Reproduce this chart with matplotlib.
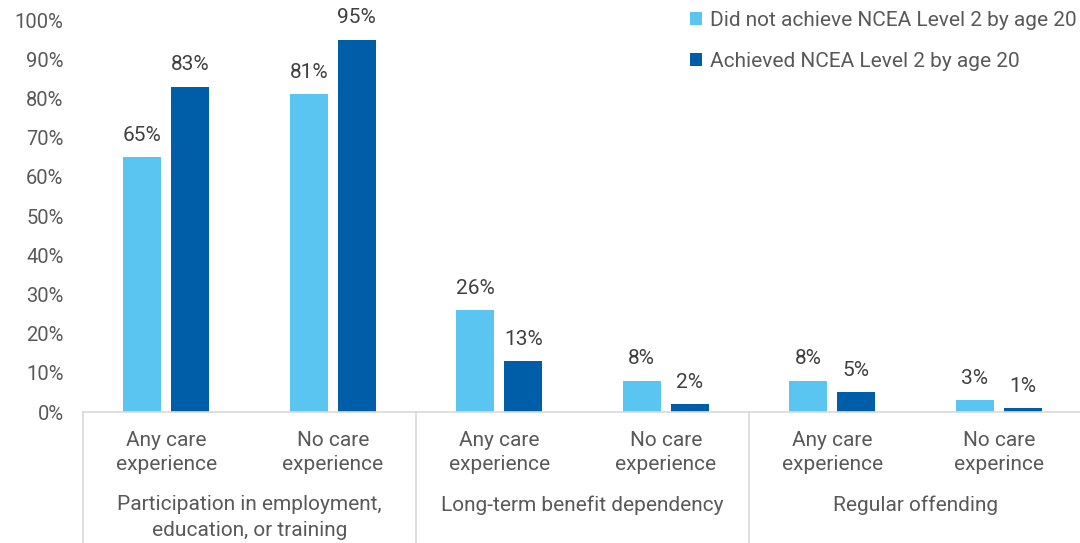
import matplotlib.pyplot as plt
import numpy as np

plt.rcParams['font.family'] = ['Roboto', 'DejaVu Sans']

# care experience categories, grouped by outcome
categories = ["Any care\nexperience", "No care\nexperience",
              "Any care\nexperience", "No care\nexperience",
              "Any care\nexperience", "No care\nexperince"]
groups = ["Participation in employment,\neducation, or training",
          "Long-term benefit dependency",
          "Regular offending"]
not_achieved = [65, 81, 26, 8, 8, 3]
achieved = [83, 95, 13, 2, 5, 1]
series_names = ["Did not achieve NCEA Level 2 by age 20",
                "Achieved NCEA Level 2 by age 20"]
yticks = list(range(0, 101, 10))

light_blue = "#5BC5F2"
dark_blue = "#005EA8"
grid_grey = "#D9D9D9"
label_col = "#404040"
tick_col = "#595959"
FS = 15

W, H = 1080, 543
fig = plt.figure(figsize=(W / 100, H / 100), dpi=100)
# axes box in pixels: left 83, baseline at 412, top (100%) at 20
ax = fig.add_axes([83 / W, (H - 412) / H, 999 / W, 392 / H])

x = np.arange(len(categories))
bw = 0.228
off = 0.144
b1 = ax.bar(x - off, not_achieved, bw, color=light_blue, label=series_names[0])
b2 = ax.bar(x + off, achieved, bw, color=dark_blue, label=series_names[1])

for bars, vals in ((b1, not_achieved), (b2, achieved)):
    for rect, v in zip(bars, vals):
        ax.annotate(f"{v}%", (rect.get_x() + rect.get_width() / 2, v),
                    xytext=(0, 9), textcoords="offset points",
                    ha="center", va="bottom", fontsize=FS, color=label_col)

ax.set_xlim(-0.5, len(categories) - 0.5)
ax.set_ylim(0, 100)
ax.set_yticks(yticks)
ax.set_yticklabels([f"{t}%" for t in yticks])
ax.tick_params(axis="y", length=0, pad=14, labelsize=FS - 0.5,
               labelcolor=tick_col)
ax.set_xticks([])
for s in ("top", "right", "left"):
    ax.spines[s].set_visible(False)
ax.spines["bottom"].set_color(grid_grey)
ax.spines["bottom"].set_linewidth(1.2)

# two-level category axis below the baseline, one text per line
px = 1 / 392  # one pixel in axes fraction
xt = ax.get_xaxis_transform()


def lines_below(xpos, text, first_px, step_px=25):
    for k, line in enumerate(text.split("\n")):
        ax.text(xpos, -(first_px + k * step_px) * px, line, transform=xt,
                ha="center", va="center", fontsize=FS, color=tick_col,
                clip_on=False)


for i, c in enumerate(categories):
    lines_below(i, c, 28)
for g, name in enumerate(groups):
    lines_below(2 * g + 0.5, name, 93)
for sep in (-0.5, 1.5, 3.5, 5.5):
    ax.plot([sep, sep], [0, -140 * px], transform=xt, color=grid_grey,
            lw=1.2, clip_on=False)

fig.legend(handles=[b1, b2], loc="upper left",
           bbox_to_anchor=(671 / W, 1 + 8 / H), frameon=False,
           fontsize=FS, labelcolor=tick_col, handlelength=0.6,
           handleheight=0.6, handletextpad=0.35, labelspacing=1.07)

fig.savefig("out.png", dpi=100)
